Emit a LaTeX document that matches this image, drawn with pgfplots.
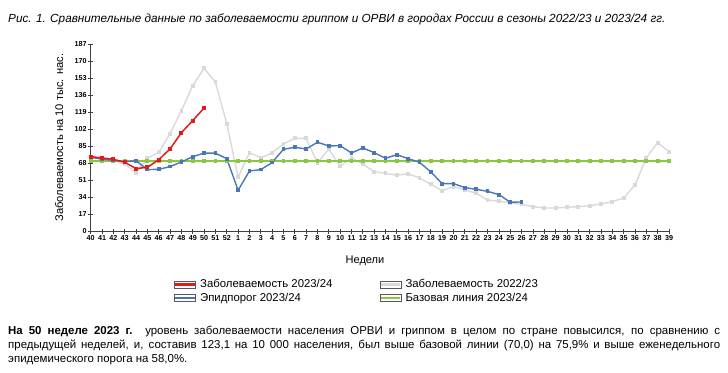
\documentclass[border=0pt]{standalone}
\usepackage{pgfplots}
\pgfplotsset{compat=1.18}
\usepackage{fontspec}
\setmainfont{Liberation Sans}
\definecolor{cred}{HTML}{E31A1C}
\definecolor{cblue}{HTML}{4A76B6}
\definecolor{cgreen}{HTML}{8DC63F}
\definecolor{cgray}{HTML}{D9D9D9}
\begin{document}
\begin{tikzpicture}
\path[use as bounding box] (0bp,0bp) rectangle (728bp,373bp);
\node[anchor=base west, inner sep=0] at (8bp,350bp) {\fontsize{11.8}{13}\selectfont\itshape Рис. 1. Сравнительные данные по заболеваемости гриппом и ОРВИ в городах России в сезоны 2022/23 и 2023/24 гг.};
\begin{axis}[
  at={(90.7bp,141.7bp)}, anchor=south west,
  scale only axis, width=578.3bp, height=187.3bp,
  xmin=0, xmax=51, ymin=0, ymax=187,
  axis x line=bottom, axis y line=left,
  axis line style={-, black!75, line width=0.8bp},
  tick style={black!75, line width=0.8bp},
  tick align=center, major tick length=5bp,
  xtick={0,...,51},
  xticklabels={40,41,42,43,44,45,46,47,48,49,50,51,52,1,2,3,4,5,6,7,8,9,10,11,12,13,14,15,16,17,18,19,20,21,22,23,24,25,26,27,28,29,30,31,32,33,34,35,36,37,38,39},
  ytick={0,17,34,51,68,85,102,119,136,153,170,187},
  /pgf/number format/assume math mode=true,
  tick label style={font=\bfseries\fontsize{7.2}{8}\selectfont, inner sep=1.5bp},
  ylabel={Заболеваемость на 10 тыс. нас.},
  ylabel style={font=\fontsize{11.2}{12}\selectfont, at={(axis description cs:-0.047,0.5)}, anchor=south, inner sep=0bp},
  clip=false,
  legend columns=2,
  legend cell align=left,
  legend style={at={(axis description cs:0.144,-0.246)}, anchor=north west, draw=none, fill=none,
    font=\fontsize{11.4}{12}\selectfont, row sep=-0.5bp, inner sep=0bp,
    /tikz/column 2/.style={column sep=45bp}},
  legend image code/.code={
    \draw[black!65, line width=0.6bp, fill=white] (0bp,-3.6bp) rectangle (21bp,3.6bp);
    \draw[#1, line width=2.2bp] (0.6bp,0bp) -- (20.4bp,0bp);
  },
]
\addlegendimage{cred}
\addlegendentry{\hspace{2bp}Заболеваемость 2023/24}
\addlegendimage{cgray}
\addlegendentry{\hspace{2bp}Заболеваемость 2022/23}
\addlegendimage{cblue}
\addlegendentry{\hspace{2bp}Эпидпорог 2023/24}
\addlegendimage{cgreen}
\addlegendentry{\hspace{2bp}Базовая линия 2023/24}
% 2022/23
\addplot[forget plot, cgray, line width=1.4bp, mark=square*, mark size=1.2bp, mark options={solid}] coordinates {
(0,74) (1,72.5) (2,71) (3,67) (4,58.6) (5,72.9) (6,78.9) (7,97.5) (8,120.5) (9,145.4) (10,162.7) (11,148.8) (12,107.5)
(13,54) (14,78.5) (15,73.2) (16,78.5) (17,87.2) (18,92.8) (19,92.8) (20,68.2) (21,82.2) (22,64.9) (23,73.5) (24,66.9)
(25,59.6) (26,57.9) (27,55.9) (28,57.6) (29,53.2) (30,46.9) (31,40.6) (32,44.6) (33,41.3) (34,37.9) (35,31.3) (36,30)
(37,28.6) (38,27) (39,24.6) (40,23.3) (41,23.3) (42,24) (43,24.6) (44,25.6) (45,27.3) (46,29.6) (47,33.3) (48,46.3)
(49,73.5) (50,88.5) (51,79.5)};
% baseline
\addplot[forget plot, cgreen, line width=1.4bp, mark=square*, mark size=1.2bp] coordinates {
(0,70) (1,70) (2,70) (3,70) (4,70) (5,70) (6,70) (7,70) (8,70) (9,70) (10,70) (11,70) (12,70) (13,70) (14,70) (15,70)
(16,70) (17,70) (18,70) (19,70) (20,70) (21,70) (22,70) (23,70) (24,70) (25,70) (26,70) (27,70) (28,70) (29,70) (30,70)
(31,70) (32,70) (33,70) (34,70) (35,70) (36,70) (37,70) (38,70) (39,70) (40,70) (41,70) (42,70) (43,70) (44,70) (45,70)
(46,70) (47,70) (48,70) (49,70) (50,70) (51,70)};
% threshold
\addplot[forget plot, cblue, line width=1.4bp, mark=square*, mark size=1.2bp] coordinates {
(0,73.9) (1,72) (2,70.9) (3,69.5) (4,70.5) (5,61.6) (6,61.9) (7,64.6) (8,69.2) (9,74.5) (10,78) (11,78) (12,72.5)
(13,41) (14,60.2) (15,61.6) (16,68.6) (17,81.9) (18,83.9) (19,82.2) (20,88.9) (21,85.2) (22,85.5) (23,78.2) (24,83.2)
(25,78.5) (26,72.9) (27,76.5) (28,72.5) (29,68.9) (30,59.2) (31,47.6) (32,47.6) (33,43.6) (34,41.9) (35,39.9) (36,36.6)
(37,29) (38,29.3)};
% 2023/24
\addplot[forget plot, cred, line width=1.5bp, mark=square*, mark size=1.3bp] coordinates {
(0,74.5) (1,73.2) (2,71.9) (3,68.9) (4,62.6) (5,63.9) (6,71.5) (7,82.2) (8,98.5) (9,110.5) (10,123.1)};
\end{axis}
\node[anchor=center, inner sep=0] at (365bp,112bp) {\fontsize{11.1}{12}\selectfont Недели};
\node[anchor=north west, inner sep=0, text width=712bp, align=justify, font=\fontsize{11.5}{14.4}\selectfont] at (8bp,47.5bp) {\emergencystretch=2em
\textbf{На 50 неделе 2023 г.} уровень заболеваемости населения ОРВИ и гриппом в целом по стране повысился, по сравнению с\linebreak
предыдущей неделей, и, составив 123,1 на 10 000 населения, был выше базовой линии (70,0) на 75,9\% и выше еженедельного\linebreak
эпидемического порога на 58,0\%.};
\end{tikzpicture}
\end{document}
